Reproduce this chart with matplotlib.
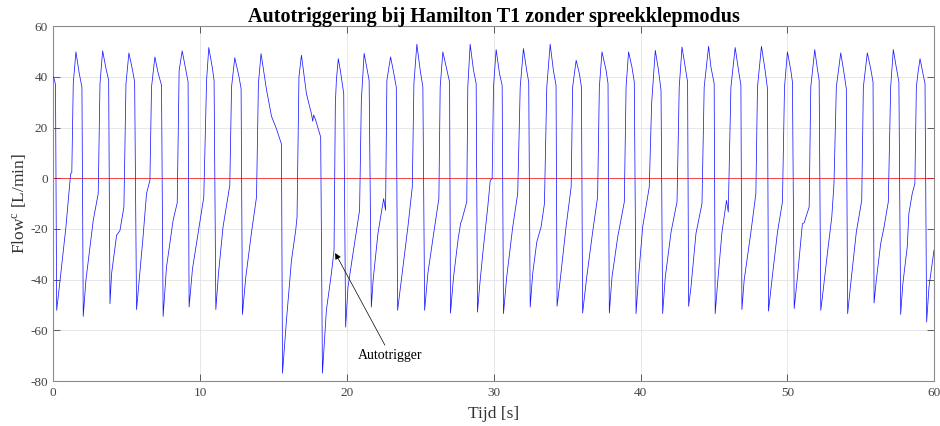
import matplotlib
matplotlib.use("Agg")
import matplotlib.pyplot as plt

plt.rcParams["font.family"] = ["Liberation Serif", "DejaVu Serif"]
plt.rcParams["mathtext.fontset"] = "custom"
plt.rcParams["mathtext.rm"] = "Liberation Serif"
plt.rcParams["mathtext.it"] = "Liberation Serif:italic"
plt.rcParams["axes.unicode_minus"] = False

# Flow waveform, key points (time in s, flow in L/min)
time_s = [
  0.00, 0.07, 0.15, 0.23,
  0.46, 0.86, 1.18, 1.26, 1.36, 1.54, 1.77, 1.95, 2.04,
  2.22, 2.72, 3.06, 3.18, 3.36, 3.59, 3.77, 3.86,
  3.97, 4.31, 4.54, 4.81, 4.95, 5.15, 5.40, 5.54, 5.67,
  5.85, 6.10, 6.35, 6.58, 6.69, 6.92, 7.12, 7.37, 7.48,
  7.71, 8.16, 8.44, 8.57, 8.78, 9.03, 9.18, 9.25,
  9.48, 9.93, 10.25, 10.44, 10.59, 10.84, 10.95, 11.07,
  11.25, 11.56, 12.02, 12.14, 12.36, 12.65, 12.79, 12.88,
  13.11, 13.50, 13.84, 13.97, 14.15, 14.52, 14.70, 14.86, 15.20, 15.54, 15.61,
  15.88, 16.22, 16.51, 16.60, 16.73, 16.90, 17.24, 17.58, 17.67, 17.73, 17.84, 18.21, 18.33,
  18.60, 18.94, 19.12, 19.21, 19.28, 19.41, 19.55, 19.78, 19.91,
  20.07, 20.41, 20.86, 20.98, 21.17, 21.34, 21.51, 21.66,
  21.78, 22.11, 22.50, 22.63, 22.72, 22.97, 23.14, 23.36, 23.45,
  23.70, 24.15, 24.45, 24.56, 24.76, 24.99, 25.17, 25.29,
  25.51, 25.97, 26.26, 26.35, 26.53, 26.76, 26.99, 27.05,
  27.26, 27.57, 27.75, 27.80, 28.16, 28.23, 28.39, 28.62, 28.80, 28.89,
  29.03, 29.25, 29.59, 29.76, 29.89, 29.98, 30.16, 30.39, 30.57, 30.66,
  30.88, 31.29, 31.63, 31.80, 32.02, 32.24, 32.38, 32.48,
  32.65, 32.93, 33.22, 33.45, 33.61, 33.84, 34.06, 34.24, 34.31,
  34.52, 34.92, 35.27, 35.37, 35.61, 35.83, 35.97, 36.05,
  36.33, 36.73, 37.07, 37.19, 37.37, 37.65, 37.78, 37.87,
  38.05, 38.44, 38.89, 39.01, 39.18, 39.41, 39.57, 39.69,
  39.86, 40.14, 40.59, 40.75, 41.00, 41.22, 41.39, 41.50,
  41.68, 42.07, 42.48, 42.63, 42.82, 43.04, 43.20, 43.27,
  43.43, 43.77, 44.18, 44.33, 44.63, 44.79, 45.01, 45.08,
  45.24, 45.54, 45.85, 45.97, 46.15, 46.44, 46.67, 46.83, 46.90,
  47.05, 47.51, 47.85, 47.96, 48.23, 48.48, 48.64, 48.71,
  48.94, 49.32, 49.66, 49.80, 50.00, 50.23, 50.34, 50.46,
  50.68, 51.02, 51.14, 51.48, 51.59, 51.86, 52.02, 52.16, 52.27,
  52.38, 52.72, 53.02, 53.17, 53.33, 53.63, 53.86, 54.01, 54.10,
  54.31, 54.69, 55.06, 55.17, 55.44, 55.67, 55.83, 55.90,
  56.05, 56.35, 56.58, 56.87, 57.03, 57.21, 57.41, 57.59, 57.71,
  57.86, 58.16, 58.27, 58.50, 58.68, 58.78, 58.89, 59.03, 59.23, 59.37, 59.48,
  59.64, 59.98,
]
flow_lpm = [
  40.0, 39.0, 37.0, -52.1,
  -40.3, -19.2, 1.8, 2.2, 37.4, 49.9, 41.3, 36.0, -54.5,
  -40.3, -16.6, -6.0, 37.4, 50.3, 43.3, 38.7, -49.5,
  -37.6, -22.5, -20.6, -11.3, 37.4, 49.5, 42.6, 38.0, -51.8,
  -40.3, -24.0, -6.0, -0.8, 36.0, 47.9, 42.0, 36.7, -54.5,
  -35.0, -16.6, -9.7, 42.6, 50.3, 42.6, 38.0, -50.8,
  -35.7, -19.2, -7.4, 38.7, 51.6, 43.3, 38.7, -51.8,
  -37.6, -19.2, -2.8, 36.0, 47.6, 40.0, 35.4, -53.7,
  -39.0, -21.3, -7.4, 37.4, 49.2, 35.0, 29.5, 24.5, 19.5, 13.5, -76.9,
  -56.0, -32.4, -20.5, -15.3, 40.0, 48.6, 33.4, 25.5, 22.5, 25.0, 23.5, 16.3, -76.9,
  -52.0, -37.6, -28.4, 29.5, 38.7, 47.2, 42.6, 33.4, -58.7,
  -42.9, -29.7, -12.6, 30.8, 49.3, 44.0, 38.7, -50.8,
  -40.3, -21.8, -8.0, -12.6, 38.7, 47.9, 43.0, 36.0, -52.1,
  -40.3, -19.2, -3.4, 37.4, 52.9, 42.6, 36.0, -52.1,
  -37.6, -19.2, -8.0, 36.0, 49.9, 43.9, 38.0, -53.2,
  -39.0, -24.0, -17.5, -17.0, -9.3, 36.0, 52.9, 42.6, 37.4, -52.8,
  -42.9, -29.7, -11.3, -0.8, -0.1, 36.0, 50.8, 41.3, 36.7, -53.4,
  -39.0, -19.2, -6.0, 36.0, 51.2, 42.6, 38.0, -50.8,
  -37.6, -25.1, -19.2, -10.0, 36.0, 52.9, 42.6, 36.7, -50.5,
  -40.3, -19.2, -3.4, 36.0, 46.6, 41.3, 36.0, -53.2,
  -39.0, -21.3, -7.4, 36.0, 49.9, 42.6, 37.4, -53.2,
  -39.0, -23.2, -9.3, 36.0, 49.9, 43.9, 38.0, -53.4,
  -39.0, -19.2, -3.4, 29.5, 50.5, 42.6, 34.7, -53.4,
  -39.0, -21.3, -9.3, 36.0, 51.8, 43.9, 38.0, -50.5,
  -42.9, -21.8, -10.0, 36.0, 52.1, 43.9, 37.4, -53.4,
  -41.6, -21.3, -8.7, -13.3, 36.0, 51.6, 42.6, 36.7, -51.8,
  -40.3, -21.3, -6.0, 36.0, 52.1, 42.6, 35.4, -52.4,
  -40.3, -21.3, -9.3, 36.0, 49.9, 42.6, 38.0, -51.4,
  -39.0, -17.9, -17.5, -11.3, 36.0, 50.8, 44.0, 38.7, -52.1,
  -46.9, -29.7, -15.3, -2.1, 36.0, 49.5, 41.3, 35.4, -53.4,
  -41.6, -21.3, -8.7, 36.0, 49.5, 43.3, 38.0, -49.2,
  -40.3, -25.8, -19.2, -9.3, 36.0, 50.8, 43.9, 38.0, -53.7,
  -41.6, -27.0, -13.9, -6.0, -2.1, 36.0, 41.6, 47.2, 41.3, 37.4, -56.7,
  -42.9, -28.4,
]

x_ticks = [0, 10, 20, 30, 40, 50, 60]
y_ticks = [-80, -60, -40, -20, 0, 20, 40, 60]
zero_line = [0, 0]

fig = plt.figure(figsize=(9.4, 4.26), dpi=100)
ax = fig.add_axes([0.0567, 0.1056, 0.9372, 0.8327])

ax.plot(time_s, flow_lpm, color="#1a1aff", lw=0.55, zorder=3)
ax.plot([x_ticks[0], x_ticks[-1]], zero_line, color="#ff0000", lw=0.7, alpha=0.7, zorder=2)

ax.annotate("Autotrigger", xy=(19.2, -29.5), xytext=(22.95, -70),
            ha="center", va="center", fontsize=10,
            arrowprops=dict(arrowstyle="-|>", color="black", lw=0.5,
                            mutation_scale=9, relpos=(0.45, 1.0), shrinkA=1, shrinkB=0))

ax.set_xlim(0, 60)
ax.set_ylim(-80, 60)
ax.set_xticks(x_ticks)
ax.set_yticks(y_ticks)
ax.grid(True, color="#e3e3e3", lw=0.6)
ax.set_axisbelow(True)
ax.tick_params(direction="in", top=True, right=True, length=5, width=0.6,
               labelsize=9.5, colors="#444444", pad=4)
for sp in ax.spines.values():
  sp.set_color("#8c8c8c")
  sp.set_linewidth(0.8)

ax.set_title("Autotriggering bij Hamilton T1 zonder spreekklepmodus",
             fontsize=14.5, fontweight="bold", pad=3)
ax.set_xlabel("Tijd [s]", fontsize=12.5, color="#333333")
ax.set_ylabel(r"Flow$^\mathrm{c}$ [L/min]", fontsize=12.5, color="#333333")
ax.xaxis.set_label_coords(0.5, -0.07)
ax.yaxis.set_label_coords(-0.029, 0.5)

fig.savefig("out.png", dpi=100, facecolor="white")
plt.close(fig)
